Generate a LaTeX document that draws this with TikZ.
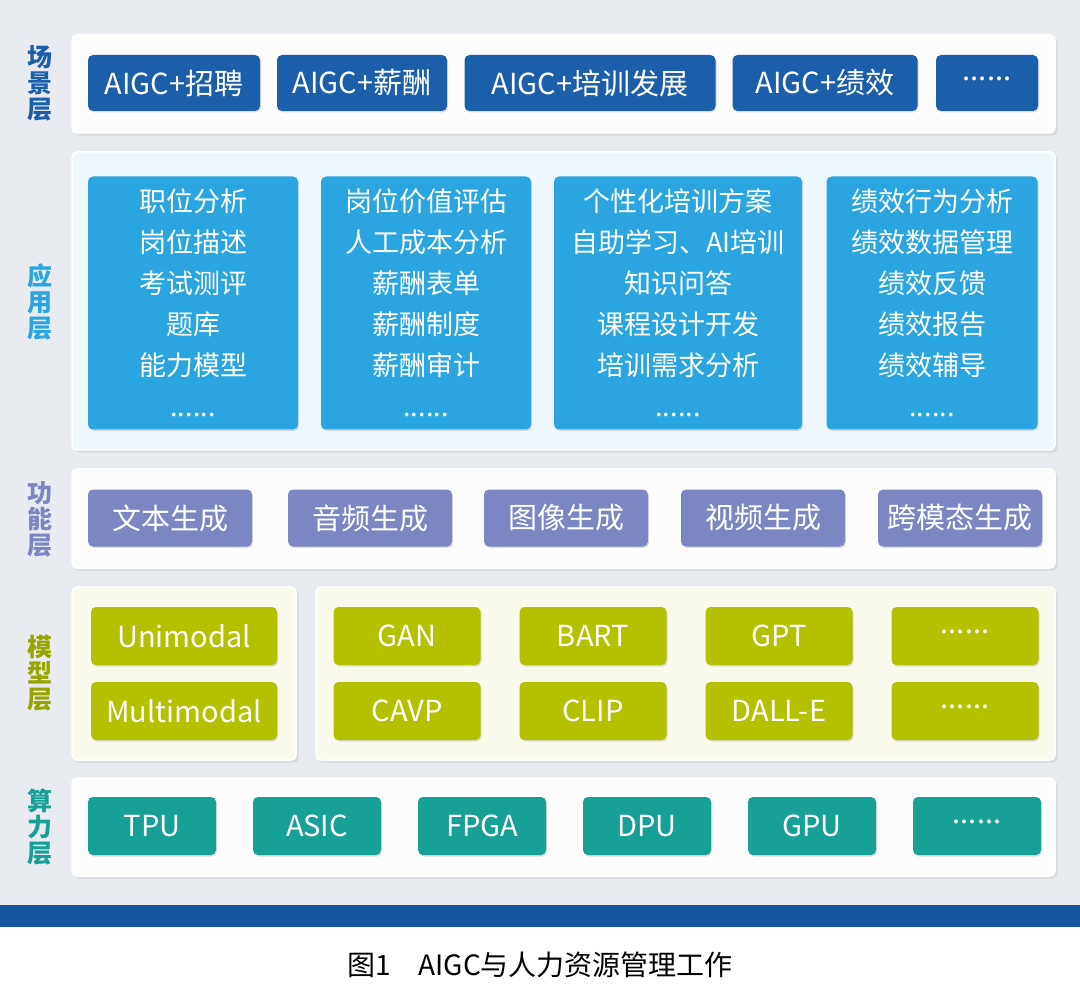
\documentclass[tikz,border=0pt]{standalone}
\usepackage{fontspec}
\setmainfont{Noto Sans CJK SC}
\usetikzlibrary{shadows}
\definecolor{bgc}{HTML}{E8ECF1}
\definecolor{scn}{HTML}{1B5FAA}
\definecolor{app}{HTML}{2BA5DF}
\definecolor{fun}{HTML}{7C86C2}
\definecolor{mdl}{HTML}{B3C100}
\definecolor{cmp}{HTML}{16A096}
\definecolor{band}{HTML}{1556A0}
\tikzset{
  panel/.style={draw=white,line width=1.5pt,rounded corners=5pt,fill=#1,drop shadow={opacity=.15}},
  box/.style={rounded corners=5pt,fill=#1,text=white,font=\fontsize{29}{34}\selectfont,
    inner sep=0pt,drop shadow={opacity=.25,shadow xshift=1pt,shadow yshift=-1.5pt}},
  lay/.style={text=#1,font=\bfseries\fontsize{25}{26}\selectfont,align=center},
}
\begin{document}
\begin{tikzpicture}[x=1pt,y=-1pt]
  \useasboundingbox (0,0) rectangle (1080,984);
  \fill[bgc] (0,0) rectangle (1080,984);
  \fill[white] (0,927) rectangle (1080,984);
  \fill[band] (0,905) rectangle (1080,927);
  \node (cap) at (540,965) {\fontsize{28}{30}\selectfont 图1\quad AIGC与人力资源管理工作};

  % panels
  \draw[panel=white!85!bgc] (72,35) rectangle (1055,133);
  \draw[panel=app!8!white] (72,152) rectangle (1055,450);
  \draw[panel=white!85!bgc] (72,469) rectangle (1055,568);
  \draw[panel=mdl!8!white] (72,587) rectangle (296,760);
  \draw[panel=mdl!8!white] (316,587) rectangle (1055,760);
  \draw[panel=white!85!bgc] (72,778) rectangle (1055,876);

  % layer names
  \node[lay=scn] (l1) at (40,83) {场\\景\\层};
  \node[lay=app] (l2) at (40,302) {应\\用\\层};
  \node[lay=fun] (l3) at (40,519) {功\\能\\层};
  \node[lay=mdl!85!black] (l4) at (40,673) {模\\型\\层};
  \node[lay=cmp] (l5) at (40,827) {算\\力\\层};

  % scene layer
  \node[box=scn,minimum width=172pt,minimum height=56pt] (s1) at (174,83) {AIGC+招聘};
  \node[box=scn,minimum width=170pt,minimum height=56pt] (s2) at (362,83) {AIGC+薪酬};
  \node[box=scn,minimum width=251pt,minimum height=56pt] (s3) at (590,83) {AIGC+培训发展};
  \node[box=scn,minimum width=185pt,minimum height=56pt] (s4) at (825,83) {AIGC+绩效};
  \node[box=scn,minimum width=102pt,minimum height=56pt] (s5) at (987,83) {\raisebox{.6ex}{......}};

  % application layer
  \tikzset{abox/.style={box=app,minimum height=253pt,align=center,
    font=\fontsize{27}{41}\selectfont}}
  \node[abox,minimum width=210pt] (a1) at (193,303) {职位分析\\岗位描述\\考试测评\\题库\\能力模型\\......};
  \node[abox,minimum width=210pt] (a2) at (426,303) {岗位价值评估\\人工成本分析\\薪酬表单\\薪酬制度\\薪酬审计\\......};
  \node[abox,minimum width=248pt] (a3) at (678,303) {个性化培训方案\\自助学习、AI培训\\知识问答\\课程设计开发\\培训需求分析\\......};
  \node[abox,minimum width=211pt] (a4) at (932,303) {绩效行为分析\\绩效数据管理\\绩效反馈\\绩效报告\\绩效辅导\\......};

  % function layer
  \tikzset{fbox/.style={box=fun,minimum width=164pt,minimum height=57pt}}
  \node[fbox] (f1) at (170,518) {文本生成};
  \node[fbox] (f2) at (370,518) {音频生成};
  \node[fbox] (f3) at (566,518) {图像生成};
  \node[fbox] (f4) at (763,518) {视频生成};
  \node[fbox] (f5) at (960,518) {跨模态生成};

  % model layer
  \tikzset{mbox/.style={box=mdl,minimum width=147pt,minimum height=58pt}}
  \node[mbox,minimum width=186pt] (m1) at (184,636) {Unimodal};
  \node[mbox,minimum width=186pt] (m2) at (184,711) {Multimodal};
  \node[mbox] (m3) at (407,636) {GAN};
  \node[mbox] (m4) at (593,636) {BART};
  \node[mbox] (m5) at (779,636) {GPT};
  \node[mbox] (m6) at (965,636) {\raisebox{.6ex}{......}};
  \node[mbox] (m7) at (407,711) {CAVP};
  \node[mbox] (m8) at (593,711) {CLIP};
  \node[mbox] (m9) at (779,711) {DALL-E};
  \node[mbox] (m10) at (965,711) {\raisebox{.6ex}{......}};

  % compute layer
  \tikzset{cbox/.style={box=cmp,minimum width=128pt,minimum height=58pt}}
  \node[cbox] (c1) at (152,826) {TPU};
  \node[cbox] (c2) at (317,826) {ASIC};
  \node[cbox] (c3) at (482,826) {FPGA};
  \node[cbox] (c4) at (647,826) {DPU};
  \node[cbox] (c5) at (812,826) {GPU};
  \node[cbox] (c6) at (977,826) {\raisebox{.6ex}{......}};
\end{tikzpicture}
\end{document}
